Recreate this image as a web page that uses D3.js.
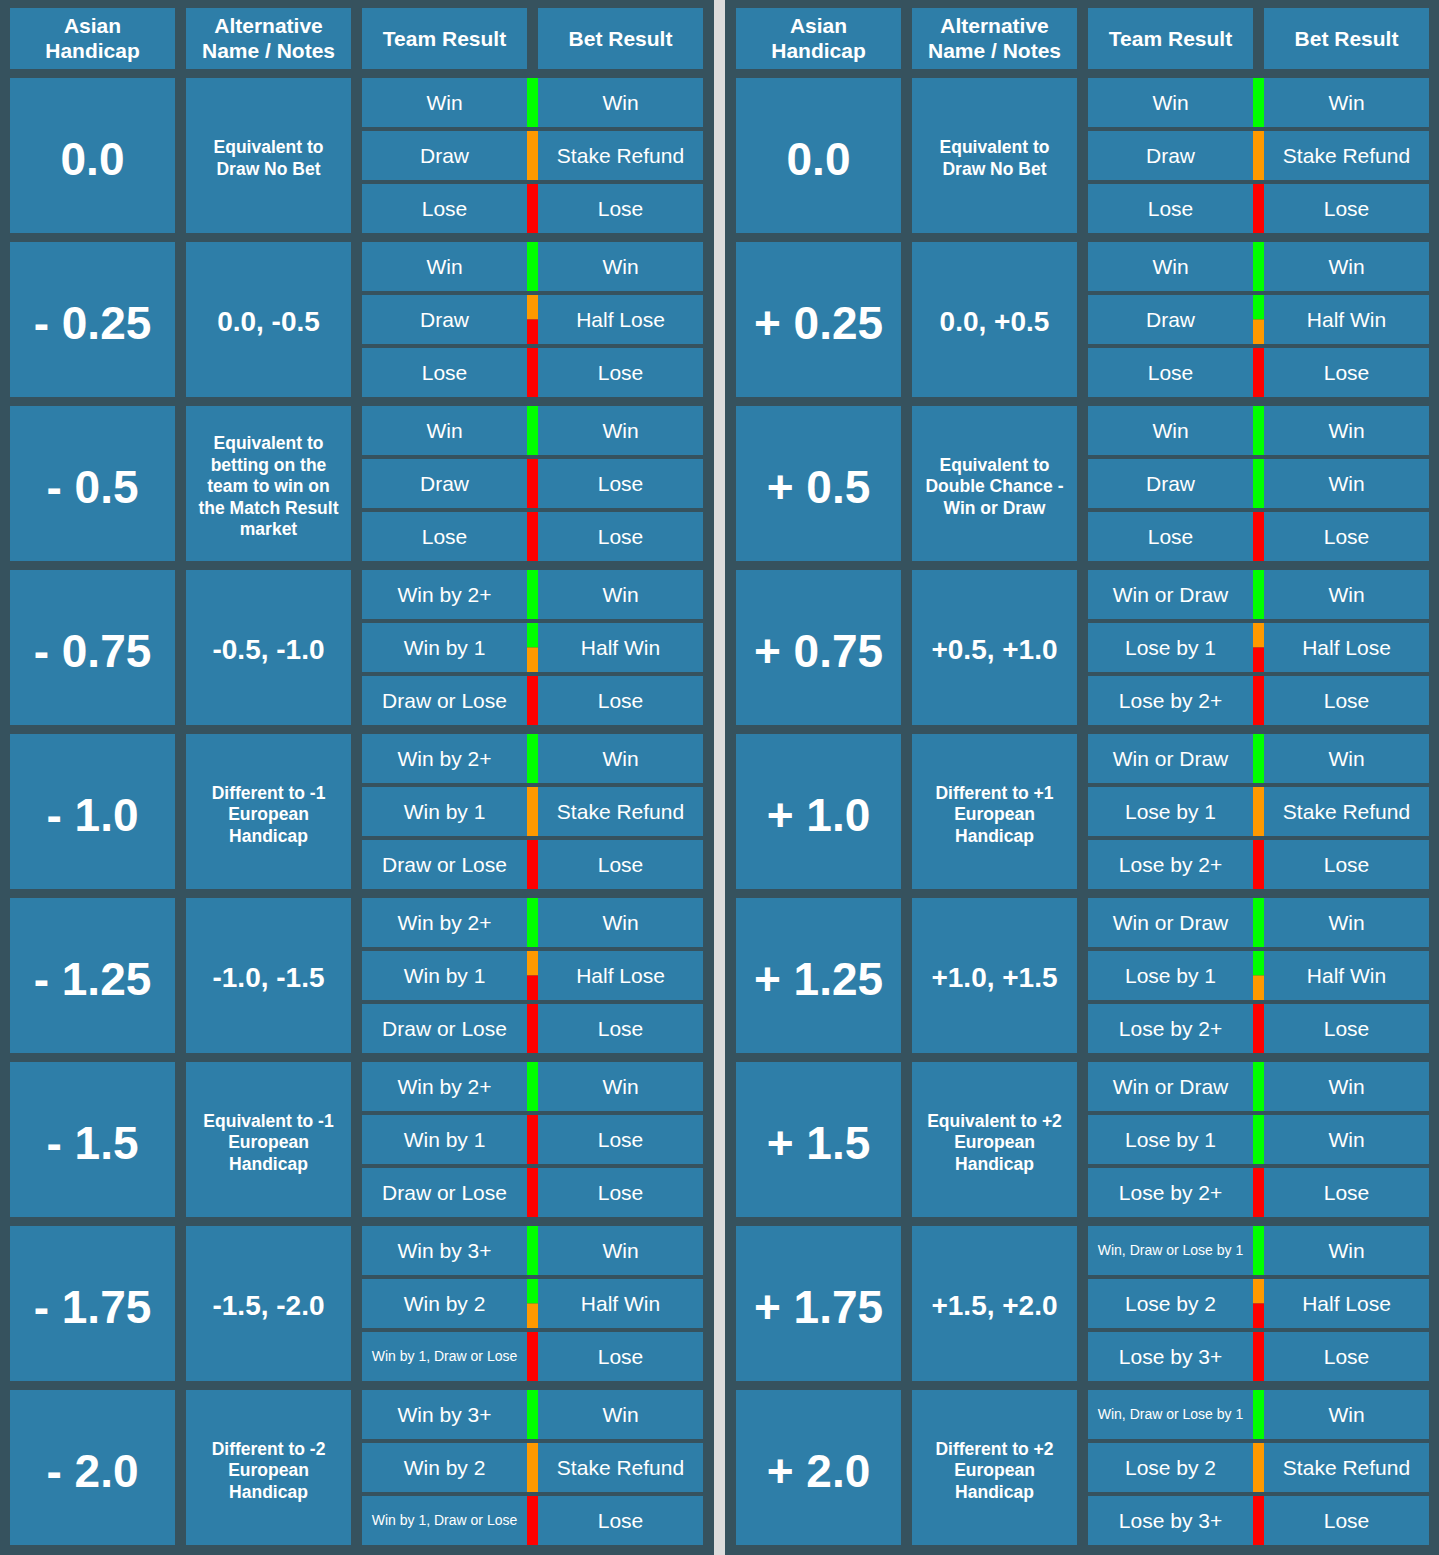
<!DOCTYPE html>
<html>
<head>
<meta charset="utf-8">
<script src="https://cdn.jsdelivr.net/npm/d3@7"></script>
<style>
  html, body { margin: 0; padding: 0; background: #36525e; }
  svg { display: block; }
  text { font-family: "Liberation Sans", Arial, Helvetica, sans-serif; fill: #ffffff; }
</style>
</head>
<body>
<svg id="chart"></svg>
<script>
// ---------- DATA ----------
const headers = [["Asian", "Handicap"], ["Alternative", "Name / Notes"], ["Team Result"], ["Bet Result"]];

const handicapsLeft = ["0.0", "- 0.25", "- 0.5", "- 0.75", "- 1.0", "- 1.25", "- 1.5", "- 1.75", "- 2.0"];
const notesLeft = [
  ["Equivalent to", "Draw No Bet"],
  ["0.0, -0.5"],
  ["Equivalent to", "betting on the", "team to win on", "the Match Result", "market"],
  ["-0.5, -1.0"],
  ["Different to -1", "European", "Handicap"],
  ["-1.0, -1.5"],
  ["Equivalent to -1", "European", "Handicap"],
  ["-1.5, -2.0"],
  ["Different to -2", "European", "Handicap"]
];
const teamResultsLeft = [
  ["Win", "Draw", "Lose"],
  ["Win", "Draw", "Lose"],
  ["Win", "Draw", "Lose"],
  ["Win by 2+", "Win by 1", "Draw or Lose"],
  ["Win by 2+", "Win by 1", "Draw or Lose"],
  ["Win by 2+", "Win by 1", "Draw or Lose"],
  ["Win by 2+", "Win by 1", "Draw or Lose"],
  ["Win by 3+", "Win by 2", "Win by 1, Draw or Lose"],
  ["Win by 3+", "Win by 2", "Win by 1, Draw or Lose"]
];
const betResultsLeft = [
  ["Win", "Stake Refund", "Lose"],
  ["Win", "Half Lose", "Lose"],
  ["Win", "Lose", "Lose"],
  ["Win", "Half Win", "Lose"],
  ["Win", "Stake Refund", "Lose"],
  ["Win", "Half Lose", "Lose"],
  ["Win", "Lose", "Lose"],
  ["Win", "Half Win", "Lose"],
  ["Win", "Stake Refund", "Lose"]
];

const handicapsRight = ["0.0", "+ 0.25", "+ 0.5", "+ 0.75", "+ 1.0", "+ 1.25", "+ 1.5", "+ 1.75", "+ 2.0"];
const notesRight = [
  ["Equivalent to", "Draw No Bet"],
  ["0.0, +0.5"],
  ["Equivalent to", "Double Chance -", "Win or Draw"],
  ["+0.5, +1.0"],
  ["Different to +1", "European", "Handicap"],
  ["+1.0, +1.5"],
  ["Equivalent to +2", "European", "Handicap"],
  ["+1.5, +2.0"],
  ["Different to +2", "European", "Handicap"]
];
const teamResultsRight = [
  ["Win", "Draw", "Lose"],
  ["Win", "Draw", "Lose"],
  ["Win", "Draw", "Lose"],
  ["Win or Draw", "Lose by 1", "Lose by 2+"],
  ["Win or Draw", "Lose by 1", "Lose by 2+"],
  ["Win or Draw", "Lose by 1", "Lose by 2+"],
  ["Win or Draw", "Lose by 1", "Lose by 2+"],
  ["Win, Draw or Lose by 1", "Lose by 2", "Lose by 3+"],
  ["Win, Draw or Lose by 1", "Lose by 2", "Lose by 3+"]
];
const betResultsRight = [
  ["Win", "Stake Refund", "Lose"],
  ["Win", "Half Win", "Lose"],
  ["Win", "Win", "Lose"],
  ["Win", "Half Lose", "Lose"],
  ["Win", "Stake Refund", "Lose"],
  ["Win", "Half Win", "Lose"],
  ["Win", "Win", "Lose"],
  ["Win", "Half Lose", "Lose"],
  ["Win", "Stake Refund", "Lose"]
];

// outcome -> bar colour segments (top to bottom)
const outcomeColors = {
  "Win": ["#00ff00"],
  "Stake Refund": ["#ff9900"],
  "Lose": ["#ff0000"],
  "Half Win": ["#00ff00", "#ff9900"],
  "Half Lose": ["#ff9900", "#ff0000"]
};

// ---------- LAYOUT ----------
const W = 1439, H = 1555;
const BG = "#36525e", CELL = "#2e7ea8", DIVIDER = "#dcdcdc";

const svg = d3.select("#chart").attr("width", W).attr("height", H);
svg.append("rect").attr("width", W).attr("height", H).attr("fill", BG);

const colScale = d3.scaleBand().domain([0, 1, 2, 3]).range([10, 703]).paddingInner(11 / 176).paddingOuter(0);
const blockScale = d3.scaleBand().domain(d3.range(9)).range([78, 1545]).paddingInner(9 / 164).paddingOuter(0);
const subScale = d3.scaleBand().domain([0, 1, 2]).range([0, blockScale.bandwidth()]).paddingInner(4 / 53).paddingOuter(0);
const headerY = [8, 69];
const sectionOffset = 726;

// divider
svg.append("rect")
  .attr("x", 714).attr("y", 0).attr("width", 11).attr("height", H)
  .attr("fill", DIVIDER);

function multiLine(g, lines, cx, cy, size, weight, lh) {
  const t = g.append("text")
    .attr("text-anchor", "middle")
    .attr("font-size", size)
    .attr("font-weight", weight);
  const n = lines.length;
  lines.forEach((l, i) => {
    t.append("tspan")
      .attr("x", cx)
      .attr("y", cy + (i - (n - 1) / 2) * lh)
      .attr("dy", "0.35em")
      .text(l);
  });
}

function drawSection(offset, handicaps, notes, teams, bets) {
  const g = svg.append("g").attr("transform", `translate(${offset},0)`);
  const bw = colScale.bandwidth();

  // headers
  headers.forEach((h, i) => {
    g.append("rect")
      .attr("x", colScale(i)).attr("y", headerY[0])
      .attr("width", bw).attr("height", headerY[1] - headerY[0])
      .attr("fill", CELL);
    multiLine(g, h, colScale(i) + bw / 2, (headerY[0] + headerY[1]) / 2, 21, "bold", 25);
  });

  handicaps.forEach((hc, b) => {
    const y0 = blockScale(b), bh = blockScale.bandwidth();
    // handicap cell
    g.append("rect").attr("x", colScale(0)).attr("y", y0).attr("width", bw).attr("height", bh).attr("fill", CELL);
    g.append("text")
      .attr("x", colScale(0) + bw / 2).attr("y", y0 + bh / 2 + 3).attr("dy", "0.35em")
      .attr("text-anchor", "middle").attr("font-size", 46).attr("font-weight", "bold")
      .text(hc);
    // notes cell
    g.append("rect").attr("x", colScale(1)).attr("y", y0).attr("width", bw).attr("height", bh).attr("fill", CELL);
    const nl = notes[b];
    if (nl.length === 1) {
      multiLine(g, nl, colScale(1) + bw / 2, y0 + bh / 2 + 2, 28, "bold", 28);
    } else {
      multiLine(g, nl, colScale(1) + bw / 2, y0 + bh / 2 + 2.5, 17.5, "bold", 21.5);
    }
    // sub rows
    [0, 1, 2].forEach(s => {
      const sy = y0 + subScale(s), sh = subScale.bandwidth();
      const team = teams[b][s], bet = bets[b][s];
      g.append("rect").attr("x", colScale(2)).attr("y", sy).attr("width", bw).attr("height", sh).attr("fill", CELL);
      g.append("rect").attr("x", colScale(3)).attr("y", sy).attr("width", bw).attr("height", sh).attr("fill", CELL);
      g.append("text")
        .attr("x", colScale(2) + bw / 2).attr("y", sy + sh / 2).attr("dy", "0.35em")
        .attr("text-anchor", "middle").attr("font-size", team.length > 16 ? 14 : 21)
        .text(team);
      g.append("text")
        .attr("x", colScale(3) + bw / 2).attr("y", sy + sh / 2).attr("dy", "0.35em")
        .attr("text-anchor", "middle").attr("font-size", 21)
        .text(bet);
      // colour bar
      const segs = outcomeColors[bet];
      const bx = colScale(2) + bw, bwid = colScale(3) - bx;
      segs.forEach((c, k) => {
        g.append("rect")
          .attr("x", bx).attr("y", sy + k * sh / segs.length)
          .attr("width", bwid).attr("height", sh / segs.length)
          .attr("fill", c);
      });
    });
  });
}

drawSection(0, handicapsLeft, notesLeft, teamResultsLeft, betResultsLeft);
drawSection(sectionOffset, handicapsRight, notesRight, teamResultsRight, betResultsRight);
</script>
</body>
</html>
